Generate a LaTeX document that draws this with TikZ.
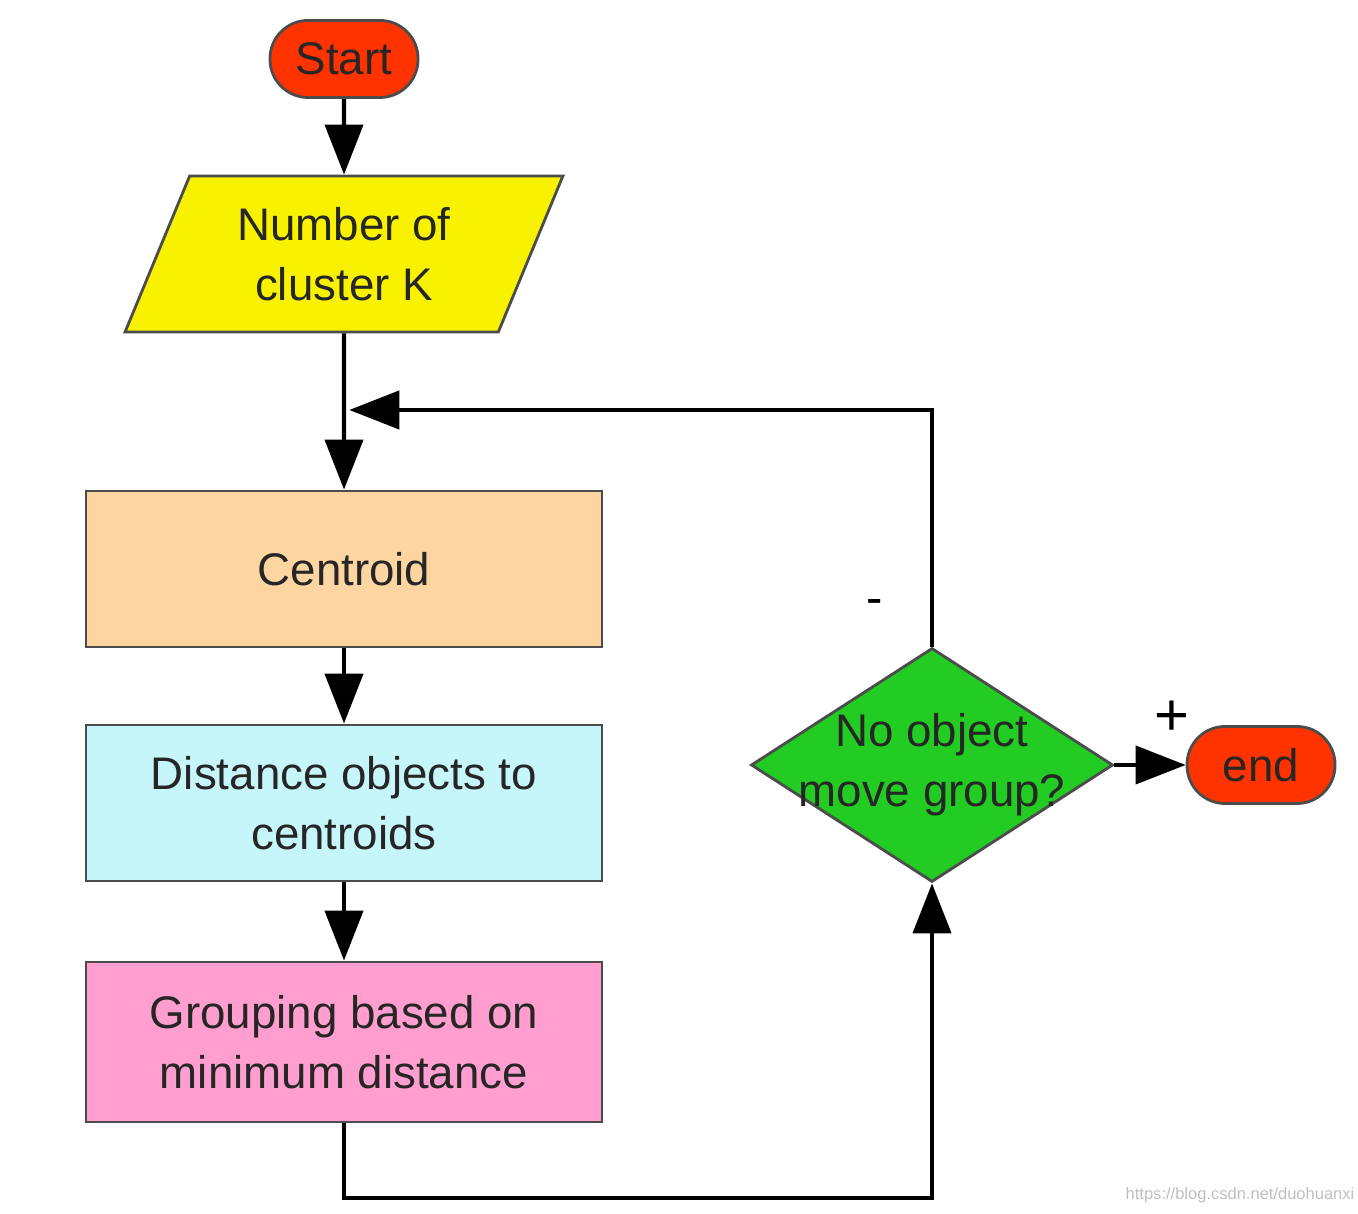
\documentclass[tikz,border=0pt]{standalone}
\usepackage{fontspec}
\setmainfont{Liberation Sans}
\usetikzlibrary{shapes.geometric,arrows.meta}

\definecolor{termred}{HTML}{FF3300}
\definecolor{inyellow}{HTML}{F8F200}
\definecolor{peach}{HTML}{FDD5A0}
\definecolor{lightcyan}{HTML}{C6F6FA}
\definecolor{pinkish}{HTML}{FF9ECF}
\definecolor{decgreen}{HTML}{22CC22}

\begin{document}
\begin{tikzpicture}[
    flow/.style={line width=1.2pt,-{Triangle[width=0.38cm,length=0.5cm]}},
    box/.style={draw=black!70,line width=0.8pt,align=center,text=black!85,font=\fontsize{13}{17}\selectfont},
    term/.style={box,rectangle,fill=termred,rounded corners=0.38cm,minimum height=0.77cm,minimum width=1.48cm},
    proc/.style={box,rectangle,minimum width=5.16cm,minimum height=1.56cm},
    io/.style={box,trapezium,trapezium left angle=67,trapezium right angle=113,trapezium stretches=true,fill=inyellow,minimum width=4.41cm,minimum height=1.56cm},
    decision/.style={box,diamond,fill=decgreen,inner sep=0pt,minimum width=3.62cm,minimum height=2.34cm}]
    \useasboundingbox (0,0) rectangle (13.58,12.13);

    \node[term] (start) at (3.44,11.54) {Start};
    \node[io] (num) at (3.44,9.59) {Number of\\cluster K};
    \node[proc,fill=peach] (cent) at (3.44,6.44) {Centroid};
    \node[proc,fill=lightcyan] (dist) at (3.44,4.10) {Distance objects to\\centroids};
    \node[proc,fill=pinkish,minimum height=1.60cm] (grp) at (3.44,1.71) {Grouping based on\\minimum distance};
    \node[decision,label={[align=center,font=\fontsize{13}{17}\selectfont,text=black!85]center:No object\\move group?}] (dec) at (9.32,4.48) {};
    \node[term] (end) at (12.61,4.48) {end};

    \coordinate (join) at (3.44,8.03);
    \coordinate (low) at (3.44,0.15);

    \draw[flow](start)--(num);
    \draw[flow](num.south)--(cent.north);
    \draw[flow](cent)--(dist);
    \draw[flow](dist)--(grp);
    \draw[flow](grp.south)--(low)-|(dec.south);
    \draw[flow,shorten >=1.5pt](dec.north)|-(join);
    \draw[flow](dec)--(end);

    \node[font=\fontsize{14}{16}\selectfont] (minus) at (8.75,6.06) {-};
    \node[font=\fontsize{17}{19}\selectfont] (plus) at (11.72,4.95) {+};
    \node[font=\fontsize{4.7}{6}\selectfont,text=black!25] (wm) at (12.40,0.18) {https://blog.csdn.net/duohuanxi};
\end{tikzpicture}
\end{document}
